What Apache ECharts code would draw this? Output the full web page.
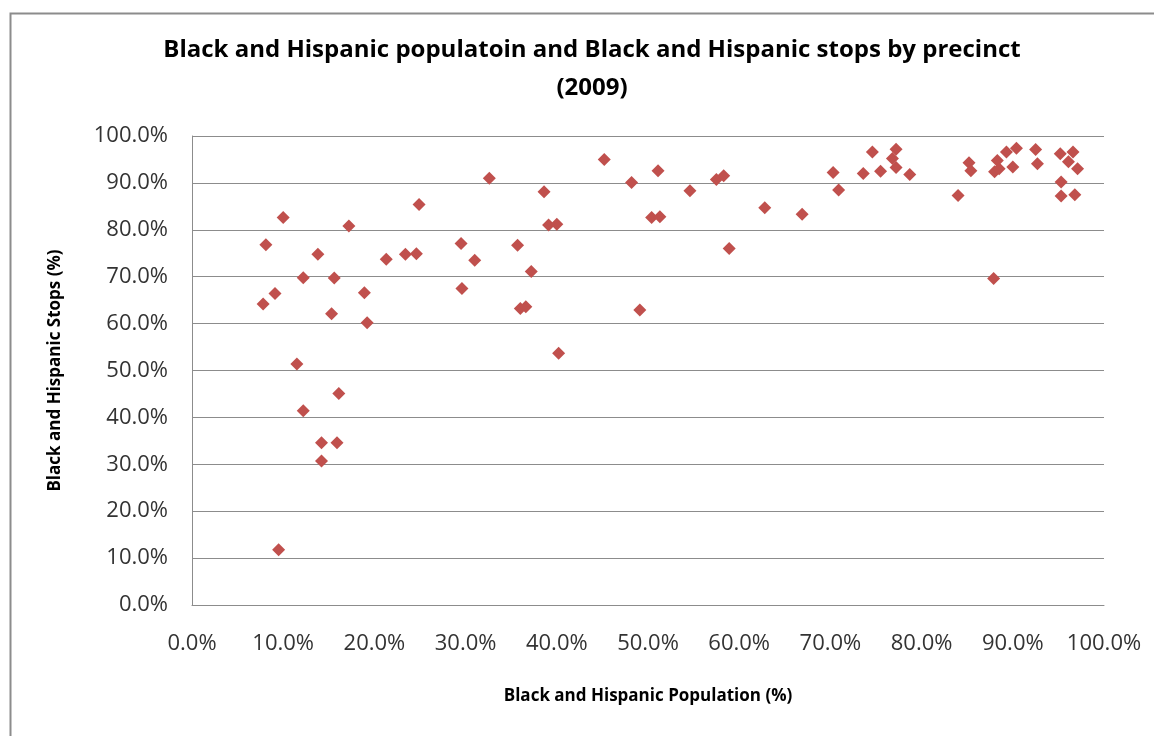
<!DOCTYPE html>
<html>
<head>
<meta charset="utf-8">
<script src="https://cdn.jsdelivr.net/npm/echarts@6/dist/echarts.min.js"></script>
<style>
  html, body { margin: 0; padding: 0; background: #fff; }
  #chart { width: 1154px; height: 736px; }
</style>
</head>
<body>
<div id="chart"></div>
<script>
// Share of Black and Hispanic residents per precinct (%)
const population = [
  7.8, 8.1, 9.1, 9.5, 10.0, 11.5, 12.2, 12.2, 13.8, 14.2,
  14.2, 15.3, 15.6, 15.9, 16.1, 17.2, 18.9, 19.2, 21.3, 23.4,
  24.6, 24.9, 29.5, 29.6, 31.0, 32.6, 35.7, 36.0, 36.6, 37.2,
  38.6, 39.1, 40.0, 40.2, 45.2, 48.2, 49.1, 50.4, 51.1, 51.3,
  54.6, 57.5, 58.3, 58.9, 62.8, 66.9, 70.3, 70.9, 73.6, 74.6,
  75.5, 76.8, 77.2, 77.2, 78.7, 84.0, 85.2, 85.4, 87.9, 88.0,
  88.3, 88.5, 89.3, 90.4, 90.0, 92.5, 92.7, 95.2, 96.6, 96.1,
  97.1, 95.3, 95.3, 96.8
];
// Share of stops involving Black and Hispanic people per precinct (%)
const stops = [
  64.2, 76.8, 66.4, 11.8, 82.6, 51.4, 69.8, 41.4, 74.8, 34.6,
  30.7, 62.1, 69.7, 34.6, 45.1, 80.8, 66.6, 60.2, 73.7, 74.8,
  74.9, 85.4, 77.1, 67.5, 73.5, 91.0, 76.7, 63.2, 63.6, 71.1,
  88.1, 81.0, 81.2, 53.7, 95.0, 90.1, 62.9, 82.6, 92.6, 82.8,
  88.3, 90.7, 91.5, 76.0, 84.7, 83.3, 92.2, 88.5, 92.0, 96.6,
  92.5, 95.2, 97.2, 93.3, 91.8, 87.3, 94.3, 92.6, 69.6, 92.4,
  94.8, 93.0, 96.6, 97.4, 93.4, 97.1, 94.1, 96.2, 96.6, 94.5,
  93.0, 90.2, 87.2, 87.5
];
const titleLines = [
  'Black and Hispanic populatoin and Black and Hispanic stops by precinct',
  '(2009)'
];
const xAxisName = 'Black and Hispanic Population (%)';
const yAxisName = 'Black and Hispanic Stops (%)';

const points = population.map((x, i) => [x, stops[i]]);
const pct = v => v.toFixed(1) + '%';

const chart = echarts.init(document.getElementById('chart'), null, { renderer: 'canvas' });
const FONT = '"Open Sans", sans-serif';

// Two-line chart title, centred over the plot area
const titleGraphics = titleLines.map((line, i) => ({
  type: 'text',
  x: 592,
  y: 50 + i * 38,
  silent: true,
  style: {
    text: line,
    fill: '#000000',
    font: 'bold 24px ' + FONT,
    textAlign: 'center',
    textVerticalAlign: 'middle'
  }
}));

chart.setOption({
  backgroundColor: '#ffffff',
  animation: false,
  grid: { left: 192, right: 50, top: 136, bottom: 131, containLabel: false },
  xAxis: {
    type: 'value',
    min: 0, max: 100, interval: 10,
    name: xAxisName,
    nameLocation: 'middle',
    nameGap: 83,
    nameTextStyle: { fontFamily: FONT, fontWeight: 'bold', fontSize: 17, color: '#000' },
    axisLine: { show: true, lineStyle: { color: '#8c8c8c', width: 1 } },
    axisTick: { show: false },
    splitLine: { show: false },
    axisLabel: { formatter: pct, fontFamily: FONT, fontSize: 22, color: '#333', margin: 28 }
  },
  yAxis: {
    type: 'value',
    min: 0, max: 100, interval: 10,
    name: yAxisName,
    nameLocation: 'middle',
    nameGap: 128,
    nameRotate: 90,
    nameTextStyle: { fontFamily: FONT, fontWeight: 'bold', fontSize: 17, color: '#000' },
    axisLine: { show: true, lineStyle: { color: '#8c8c8c', width: 1 } },
    axisTick: { show: false },
    splitLine: { show: true, lineStyle: { color: '#8c8c8c', width: 1 } },
    axisLabel: { formatter: pct, fontFamily: FONT, fontSize: 22, color: '#333', margin: 24 }
  },
  series: [{
    type: 'scatter',
    data: points,
    symbol: 'diamond',
    symbolSize: 13,
    itemStyle: { color: '#C0504D', opacity: 1 }
  }],
  graphic: [{
    type: 'rect',
    left: 8, top: 11,
    shape: { width: 1200, height: 800 },
    style: { fill: 'none', stroke: '#8c8c8c', lineWidth: 2 },
    silent: true
  }].concat(titleGraphics)
});
</script>
</body>
</html>
